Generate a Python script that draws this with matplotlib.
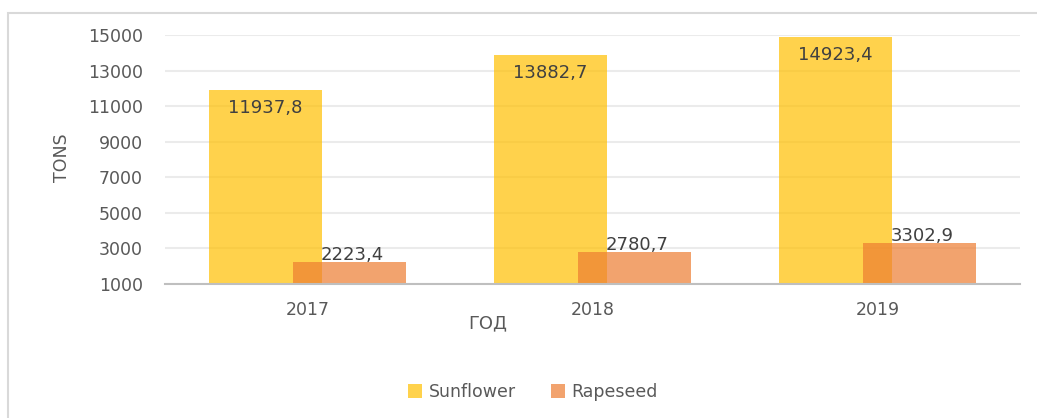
import matplotlib
matplotlib.use("Agg")
import matplotlib.pyplot as plt
from matplotlib.patches import Rectangle
import numpy as np

years = ["2017", "2018", "2019"]
sunflower = [11937.8, 13882.7, 14923.4]
rapeseed = [2223.4, 2780.7, 3302.9]
sun_labels = ["11937,8", "13882,7", "14923,4"]
rape_labels = ["2223,4", "2780,7", "3302,9"]
yticks = [1000, 3000, 5000, 7000, 9000, 11000, 13000, 15000]

plt.rcParams['font.family'] = ['DejaVu Sans']
fig = plt.figure(figsize=(10.37, 4.18), dpi=100)
ax = fig.add_axes([165/1037, 1-284/418, (1020-165)/1037, (284-35)/418])

x = np.arange(len(years))
w = 0.396
off = 0.147
b1 = ax.bar(x - off, sunflower, w, color="#FFC000", alpha=0.7, label="Sunflower", zorder=2)
b2 = ax.bar(x + off, rapeseed, w, color="#ED7D31", alpha=0.7, label="Rapeseed", zorder=3)

for xi, v, t in zip(x, sunflower, sun_labels):
    ax.annotate(t, (xi - off, v), xytext=(0, -13), textcoords="offset points",
                ha="center", va="center", fontsize=13, color="#404040", zorder=5)
for xi, v, t in zip(x, rapeseed, rape_labels):
    ax.annotate(t, (xi + off, v), xytext=(2, 5), textcoords="offset points",
                ha="center", va="center", fontsize=13, color="#404040", zorder=5)

ax.set_xlim(-0.5, 2.5)
ax.set_ylim(1000, 15020)
ax.set_yticks(yticks)
ax.set_yticklabels([str(v) for v in yticks])
ax.set_xticks(x)
ax.set_xticklabels(years)
ax.tick_params(axis="both", length=0, labelsize=12.5, colors="#595959")
ax.tick_params(axis="y", pad=16)
ax.tick_params(axis="x", pad=12)
ax.set_axisbelow(True)
ax.yaxis.grid(True, color="#EBEBEB", linewidth=1.5)
for s in ["top", "right", "left"]:
    ax.spines[s].set_visible(False)
ax.spines["bottom"].set_color("#BFBFBF")
ax.spines["bottom"].set_linewidth(1.5)
ax.spines["bottom"].set_zorder(4)

fig.text(62/1037, 1-158/418, "TONS", rotation=90, ha="center", va="center",
         fontsize=12.5, color="#595959")
fig.text(488/1037, 1-323/418, "ГОД", ha="center", va="center",
         fontsize=13, color="#595959")

fig.legend(handles=[b1, b2], labels=["Sunflower", "Rapeseed"], ncol=2,
           loc="center", bbox_to_anchor=(533/1037, 1-392/418), frameon=False,
           fontsize=12.5, labelcolor="#595959", handlelength=0.8, handleheight=0.8,
           handletextpad=0.4, columnspacing=2.0)

fig.patches.append(Rectangle((8/1037, -0.05), 1.2, 1-13/418+0.05,
                             transform=fig.transFigure, fill=False,
                             edgecolor="#D9D9D9", linewidth=1.5))

fig.savefig("out.png", dpi=100)
